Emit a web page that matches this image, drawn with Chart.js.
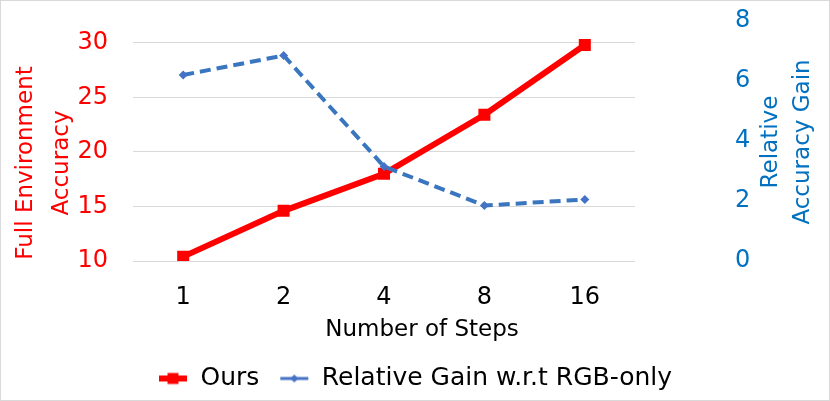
<!DOCTYPE html>
<html>
<head>
<meta charset="utf-8">
<script src="https://cdn.jsdelivr.net/npm/chart.js@4"></script>
<style>
html, body { margin: 0; padding: 0; background: #fff; }
</style>
</head>
<body>
<canvas id="mycanvas" width="830" height="401"></canvas>
<script>
// data
var steps = ['1', '2', '4', '8', '16'];
var ours = [10.4, 14.6, 18.0, 23.4, 29.8];
var relGain = [6.2, 6.85, 3.15, 1.85, 2.05];
var leftTicks = [10, 15, 20, 25, 30];
var rightTicks = [0, 2, 4, 6, 8];

var RED = '#ff0000';
var BLUE_LINE = '#3a76c0';
var BLUE_PT = '#4472c4';
var AXIS_BLUE = '#0070c0';
var FONT = '"DejaVu Sans", sans-serif';

// small line+marker icons for the legend
function makeIcon(color, lw, style, size) {
	var c = document.createElement('canvas');
	c.width = 30; c.height = 14;
	var g = c.getContext('2d');
	g.strokeStyle = color;
	g.fillStyle = color;
	g.lineWidth = lw;
	g.beginPath(); g.moveTo(1, 7); g.lineTo(29, 7); g.stroke();
	if (style === 'rect') {
		g.fillRect(15 - size / 2, 7 - size / 2, size, size);
	} else {
		g.beginPath();
		g.moveTo(15 - size / 2, 7); g.lineTo(15, 7 - size / 2);
		g.lineTo(15 + size / 2, 7); g.lineTo(15, 7 + size / 2);
		g.closePath(); g.fill();
	}
	return c;
}
var legendIcons = [makeIcon(RED, 6, 'rect', 11), makeIcon(BLUE_PT, 3, 'diamond', 8)];

// axis titles drawn by hand (right one reads bottom-to-top, x one centred on the figure)
var axisTitles = {
	id: 'axisTitles',
	beforeDraw: function(chart) {
		var ctx = chart.ctx;
		ctx.save();
		ctx.strokeStyle = '#d9d9d9';
		ctx.lineWidth = 1;
		ctx.strokeRect(0.5, 0.5, chart.width - 1, chart.height - 1);
		ctx.restore();
	},
	afterDraw: function(chart) {
		var ctx = chart.ctx, a = chart.chartArea;
		ctx.save();
		ctx.font = '23px ' + FONT;
		ctx.textAlign = 'center';
		ctx.textBaseline = 'middle';

		ctx.fillStyle = RED;
		ctx.save();
		ctx.translate(a.left - 107, a.bottom - 98);
		ctx.rotate(-Math.PI / 2);
		ctx.fillText('Full Environment', 0, 0);
		ctx.fillText('Accuracy', 0, 36);
		ctx.restore();

		ctx.fillStyle = AXIS_BLUE;
		ctx.save();
		ctx.translate(a.right + 136, a.bottom - 119);
		ctx.rotate(-Math.PI / 2);
		ctx.fillText('Relative', 0, 0);
		ctx.fillText('Accuracy Gain', 0, 32);
		ctx.restore();

		ctx.fillStyle = '#000';
		ctx.fillText('Number of Steps', chart.width / 2 + 7, a.bottom + 69);
		ctx.restore();
	}
};

function fixY(w) {
	return function(s) {
		s.width = w;
		s.paddingTop = 12;
		s.paddingBottom = 12;
	};
}

var ctx = document.getElementById('mycanvas');

var lineChart = new Chart(ctx, {
	type: 'line',
	data: {
		labels: steps,
		datasets: [
			{
				label: 'Ours',
				data: ours,
				yAxisID: 'y',
				borderColor: RED,
				backgroundColor: RED,
				borderWidth: 6,
				pointStyle: 'rect',
				pointRadius: 8.5,
				pointBorderWidth: 0,
				pointBackgroundColor: RED,
				tension: 0,
				order: 1
			},
			{
				label: 'Relative Gain w.r.t RGB-only',
				data: relGain,
				yAxisID: 'y1',
				borderColor: BLUE_LINE,
				backgroundColor: BLUE_PT,
				borderWidth: 4,
				borderDash: [11, 6],
				pointStyle: 'rectRot',
				pointRadius: 4.5,
				pointBorderWidth: 0,
				pointBackgroundColor: BLUE_PT,
				tension: 0,
				order: 0
			}
		]
	},
	options: {
		responsive: false,
		animation: false,
		layout: { padding: { top: 21, bottom: 0, left: 0, right: 0 } },
		plugins: {
			tooltip: { enabled: false },
			legend: {
				position: 'bottom',
				labels: {
					usePointStyle: true,
					pointStyleWidth: 30,
					padding: 20,
					color: '#000',
					font: { family: FONT, size: 25 },
					generateLabels: function(chart) {
						return chart.data.datasets.map(function(ds, i) {
							return {
								text: ds.label,
								pointStyle: legendIcons[i],
								datasetIndex: i,
								hidden: false,
								lineWidth: 0,
								strokeStyle: 'transparent',
								fillStyle: 'transparent'
							};
						});
					}
				}
			}
		},
		scales: {
			x: {
				offset: true,
				grid: { display: false },
				border: { display: false },
				ticks: { color: '#000', padding: 14, font: { family: FONT, size: 24 } },
				afterFit: function(s) { s.height = 85; }
			},
			y: {
				position: 'left',
				min: 10,
				max: 32,
				afterBuildTicks: function(s) { s.ticks = leftTicks.map(function(v) { return { value: v }; }); },
				afterFit: fixY(133),
				grid: { color: '#d9d9d9', lineWidth: 1, drawTicks: false },
				border: { display: false },
				ticks: { color: RED, padding: 25, font: { family: FONT, size: 24 } }
			},
			y1: {
				position: 'right',
				min: 0,
				max: 8,
				afterBuildTicks: function(s) { s.ticks = rightTicks.map(function(v) { return { value: v }; }); },
				afterFit: fixY(195),
				grid: { display: false, drawTicks: false },
				border: { display: false },
				ticks: { color: AXIS_BLUE, padding: 100, font: { family: FONT, size: 24 } }
			}
		}
	},
	plugins: [axisTitles]
});
</script>
</body>
</html>
